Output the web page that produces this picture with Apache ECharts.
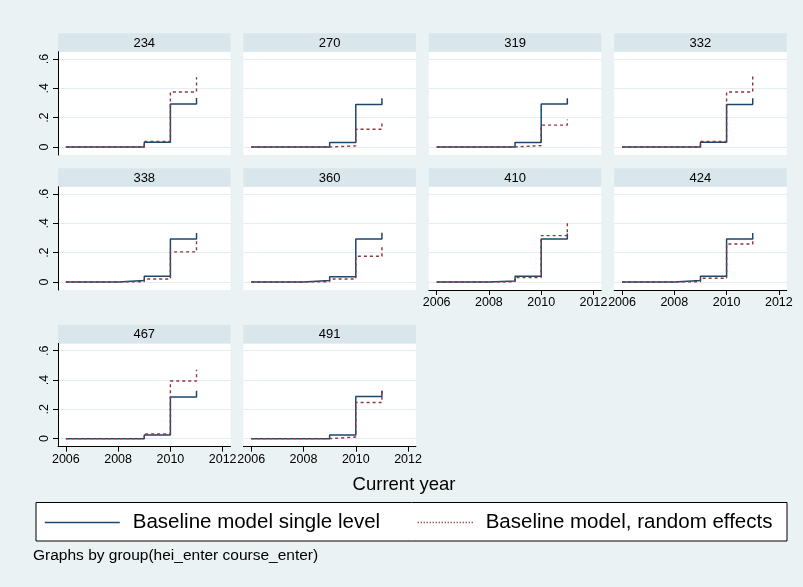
<!DOCTYPE html>
<html>
<head>
<meta charset="utf-8">
<script src="https://cdn.jsdelivr.net/npm/echarts@6/dist/echarts.min.js"></script>
<style>
html,body{margin:0;padding:0;background:#eaf2f3;}
#chart{width:803px;height:587px;}
</style>
</head>
<body>
<div id="chart"></div>
<script>
// ---- data ----
const years = [2006, 2007, 2008, 2009, 2010, 2011];
const groups = ['234', '270', '319', '332', '338', '360', '410', '424', '467', '491'];
const seriesNames = ['Baseline model single level', 'Baseline model, random effects'];
const yTicks = [0, 0.2, 0.4, 0.6];
const xTicks = [2006, 2008, 2010, 2012];

const single234 = [0, 0, 0, 0.032, 0.293, 0.334];
const random234 = [0, 0, 0, 0.037, 0.375, 0.476];
const single270 = [0, 0, 0, 0.030, 0.290, 0.332];
const random270 = [0, 0, 0, 0.007, 0.121, 0.179];
const single319 = [0, 0, 0, 0.030, 0.293, 0.332];
const random319 = [0, 0, 0, 0.009, 0.149, 0.188];
const single332 = [0, 0, 0, 0.032, 0.290, 0.332];
const random332 = [0, 0, 0, 0.037, 0.375, 0.480];
const single338 = [0, 0, 0.009, 0.039, 0.293, 0.334];
const random338 = [0, 0, 0.002, 0.020, 0.205, 0.289];
const single360 = [0, 0, 0.009, 0.036, 0.293, 0.336];
const random360 = [0, 0, 0.002, 0.020, 0.175, 0.243];
const single410 = [0, 0, 0.007, 0.039, 0.293, 0.330];
const random410 = [0, 0, 0.002, 0.030, 0.316, 0.414];
const single424 = [0, 0, 0.009, 0.039, 0.293, 0.334];
const random424 = [0, 0, 0.002, 0.025, 0.259, 0.300];
const single467 = [0, 0, 0, 0.025, 0.285, 0.327];
const random467 = [0, 0, 0, 0.032, 0.393, 0.470];
const single491 = [0, 0, 0, 0.025, 0.288, 0.327];
const random491 = [0, 0, 0, 0.011, 0.247, 0.330];

const singleData = [single234, single270, single319, single332, single338, single360, single410, single424, single467, single491];
const randomData = [random234, random270, random319, random332, random338, random360, random410, random424, random467, random491];

// ---- layout ----
const FONT = 'Liberation Sans, Arial, sans-serif';
const colLeft = [58, 243.4, 428.8, 614.2];
const panelW = 172.5;
const stripTop = [33.3, 168.3, 325];
const stripH = 18.4;
const plotH = 103.3;
const xAxisPanels = [6, 7, 8, 9];

const grids = [], xAxes = [], yAxes = [], series = [], graphics = [];
groups.forEach((g, i) => {
  const row = Math.floor(i / 4), col = i % 4;
  const left = colLeft[col];
  const top = stripTop[row] + stripH;
  grids.push({left: left, top: top, width: panelW, height: plotH, show: true,
    backgroundColor: '#ffffff', borderWidth: 0, containLabel: false});
  const showX = xAxisPanels.indexOf(i) >= 0;
  xAxes.push({
    type: 'value', gridIndex: i, min: 2005.7, max: 2012.3,
    axisLine: {show: showX, onZero: false, lineStyle: {color: '#000', width: 1}},
    axisTick: {show: showX, length: 5, customValues: xTicks, lineStyle: {color: '#000', width: 1}},
    axisLabel: {show: showX, customValues: xTicks, color: '#000', fontSize: 12.5,
      fontFamily: FONT, margin: 6, formatter: v => String(Math.round(v))},
    splitLine: {show: false}
  });
  const showY = col === 0;
  yAxes.push({
    type: 'value', gridIndex: i, min: -0.055, max: 0.65,
    axisLine: {show: showY, onZero: false, lineStyle: {color: '#000', width: 1}},
    axisTick: {show: showY, length: 5, customValues: yTicks, lineStyle: {color: '#000', width: 1}},
    axisLabel: {show: showY, customValues: yTicks, rotate: 90, color: '#000', fontSize: 12.5,
      fontFamily: FONT, margin: 7,
      formatter: v => (Math.abs(v) < 1e-9 ? '0' : v.toFixed(1).replace(/^0\./, '.'))},
    splitLine: {show: true, lineStyle: {color: '#e4edf0', width: 1.2}}
  });
  series.push({
    name: seriesNames[0], type: 'line', xAxisIndex: i, yAxisIndex: i,
    data: years.map((y, k) => [y, singleData[i][k]]), step: 'end', symbol: 'none',
    lineStyle: {color: '#1a476f', width: 1.5}, itemStyle: {color: '#1a476f'}, z: 2, silent: true
  });
  series.push({
    name: seriesNames[1], type: 'line', xAxisIndex: i, yAxisIndex: i,
    data: years.map((y, k) => [y, randomData[i][k]]), step: 'end', symbol: 'none',
    lineStyle: {color: '#90353b', width: 1.4, type: [3, 3]}, itemStyle: {color: '#90353b'}, z: 3, silent: true
  });
  graphics.push({type: 'rect', shape: {x: left, y: stripTop[row], width: panelW, height: stripH},
    style: {fill: '#d9e6eb'}, silent: true});
  graphics.push({type: 'text', x: left + panelW / 2, y: stripTop[row] + stripH / 2 + 0.5,
    style: {text: g, fill: '#000', font: '13px ' + FONT, textAlign: 'center', textVerticalAlign: 'middle'}, silent: true});
});

graphics.push({type: 'text', x: 404, y: 485,
  style: {text: 'Current year', fill: '#000', font: '18.5px ' + FONT, textAlign: 'center', textVerticalAlign: 'middle'}});
graphics.push({type: 'rect', z: -1, shape: {x: 36, y: 502.5, width: 751, height: 38.5},
  style: {fill: '#ffffff', stroke: '#000', lineWidth: 1}});
graphics.push({type: 'text', x: 33, y: 556,
  style: {text: 'Graphs by group(hei_enter course_enter)', fill: '#000', font: '15.5px ' + FONT,
    textAlign: 'left', textVerticalAlign: 'middle'}});

const option = {
  backgroundColor: '#eaf2f3',
  animation: false,
  grid: grids,
  xAxis: xAxes,
  yAxis: yAxes,
  series: series,
  legend: [
    {data: [seriesNames[0]], left: 44, top: 512, padding: 0, itemWidth: 75, itemHeight: 10, z: 10,
     itemStyle: {opacity: 0}, lineStyle: {width: 1.6},
     textStyle: {fontSize: 20.5, color: '#000', fontFamily: FONT, padding: [0, 0, 0, 8]},
     selectedMode: false},
    {data: [seriesNames[1]], left: 417, top: 512, padding: 0, itemWidth: 56, itemHeight: 10, z: 10,
     itemStyle: {opacity: 0}, lineStyle: {type: [1.2, 1.8], width: 1.3},
     textStyle: {fontSize: 20.5, color: '#000', fontFamily: FONT, padding: [0, 0, 0, 7]},
     selectedMode: false}
  ],
  graphic: graphics
};
const chart = echarts.init(document.getElementById('chart'), null, {renderer: 'canvas'});
chart.setOption(option);
</script>
</body>
</html>
